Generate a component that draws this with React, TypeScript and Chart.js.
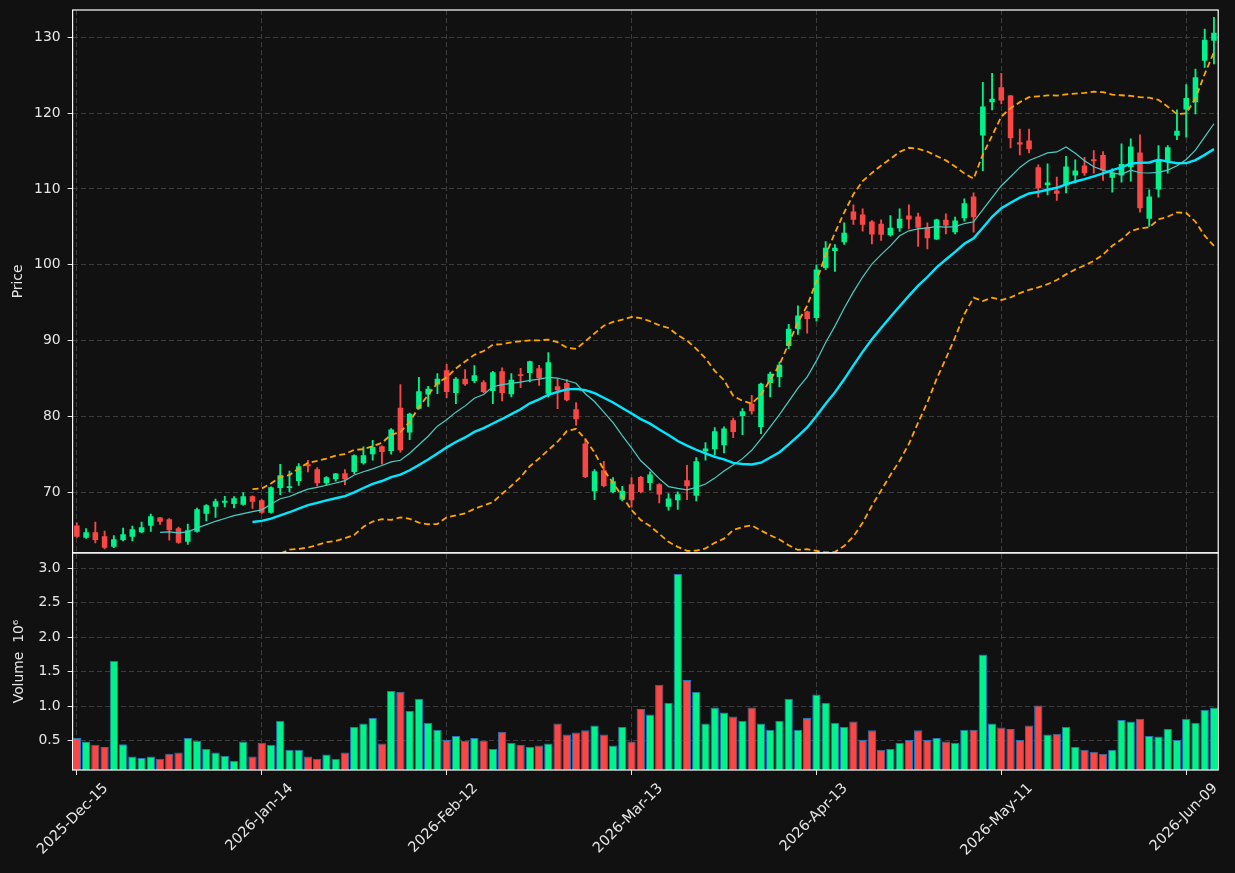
import React, { useEffect, useRef } from 'react';
import { Chart, registerables } from 'chart.js';

Chart.register(...registerables);

// ---------- categories (trading days) ----------
const FIRST_DAY = '2025-12-15';
const MARKET_HOLIDAYS = ['2025-12-25', '2026-01-01', '2026-01-19', '2026-02-16', '2026-04-03', '2026-05-25'];
const MONTH_NAMES = ['Jan', 'Feb', 'Mar', 'Apr', 'May', 'Jun', 'Jul', 'Aug', 'Sep', 'Oct', 'Nov', 'Dec'];

// ---------- series values ----------
const OPEN = [
  65.61, 63.98, 64.73, 64.20, 62.80, 63.68, 64.12, 64.73, 65.56, 66.66,
  66.44, 65.26, 63.46, 64.77, 67.15, 68.07, 68.60, 68.46, 68.33, 69.47,
  68.95, 67.28, 70.57, 70.57, 71.49, 73.69, 73.03, 71.19, 71.71, 72.50,
  72.68, 73.82, 75.01, 76.06, 75.45, 81.15, 77.86, 81.02, 82.87, 84.19,
  86.07, 83.09, 84.98, 84.67, 84.49, 83.35, 85.94, 82.91, 85.55, 85.72,
  86.34, 83.00, 83.97, 84.41, 80.94, 76.41, 70.13, 72.90, 70.04, 69.03,
  71.05, 72.02, 71.23, 71.05, 68.07, 68.95, 71.58, 69.52, 75.40, 75.67,
  76.19, 79.49, 80.06, 81.68, 78.61, 84.40, 85.20, 89.28, 91.48, 93.85,
  92.97, 99.56, 101.80, 102.98, 107.02, 106.63, 105.70, 105.40, 103.90, 104.83,
  106.50, 106.36, 104.96, 103.33, 105.92, 104.30, 106.14, 109.00, 117.04, 121.43,
  123.40, 122.31, 116.16, 116.38, 112.86, 110.49, 109.79, 110.45, 111.77, 113.08,
  113.91, 114.49, 111.46, 111.77, 112.86, 114.80, 106.06, 109.92, 113.52, 117.03,
  120.46, 121.43, 126.92, 129.55,
];
const HIGH = [
  65.96, 65.21, 66.05, 64.86, 64.29, 65.26, 65.52, 66.05, 67.10, 66.70,
  66.53, 65.39, 65.78, 67.89, 68.38, 69.08, 69.47, 69.43, 69.96, 69.52,
  69.03, 70.70, 73.69, 72.77, 73.78, 74.22, 73.25, 72.06, 72.50, 72.99,
  74.92, 75.97, 76.85, 76.10, 78.39, 84.19, 80.45, 85.15, 83.97, 85.63,
  86.86, 85.11, 86.16, 86.69, 84.71, 85.94, 86.42, 85.63, 86.34, 87.30,
  86.73, 88.40, 84.98, 84.84, 81.81, 77.07, 72.99, 74.08, 71.93, 70.79,
  71.93, 72.11, 72.68, 71.14, 69.82, 70.04, 73.56, 74.57, 76.54, 78.52,
  78.61, 79.79, 81.02, 82.78, 84.40, 85.85, 87.17, 92.13, 94.59, 93.89,
  99.99, 103.07, 102.67, 105.53, 107.90, 107.37, 105.84, 105.92, 106.50, 107.37,
  107.90, 106.80, 105.53, 106.01, 106.71, 106.28, 108.69, 109.48, 124.06, 125.25,
  125.25, 122.35, 117.91, 117.91, 113.17, 113.30, 111.55, 114.31, 113.83, 114.18,
  115.06, 114.93, 112.64, 115.94, 116.60, 117.12, 109.88, 115.72, 115.72, 120.42,
  123.75, 125.82, 131.09, 132.63,
];
const LOW = [
  64.03, 63.90, 63.32, 62.53, 62.67, 63.59, 63.59, 64.64, 64.82, 65.74,
  63.68, 63.24, 63.10, 64.73, 66.22, 66.66, 68.07, 67.94, 68.29, 67.85,
  67.19, 67.23, 69.69, 70.04, 70.88, 72.68, 70.79, 70.92, 71.45, 71.01,
  72.46, 73.69, 74.22, 73.69, 75.01, 75.27, 76.94, 80.94, 81.33, 83.00,
  82.47, 81.68, 84.10, 84.45, 83.13, 81.68, 82.03, 82.56, 83.79, 84.54,
  84.10, 82.56, 81.02, 82.03, 78.83, 71.93, 69.03, 70.70, 69.91, 68.86,
  68.07, 69.91, 70.26, 68.59, 67.63, 67.72, 69.03, 68.86, 74.22, 74.87,
  75.18, 77.20, 77.60, 80.28, 77.73, 82.56, 83.88, 88.93, 90.82, 90.99,
  92.57, 99.34, 99.12, 102.67, 105.31, 104.43, 102.76, 103.20, 103.77, 104.39,
  104.74, 102.41, 102.10, 103.33, 104.08, 104.08, 105.75, 104.30, 112.42, 120.42,
  121.21, 115.41, 114.49, 114.75, 108.91, 109.22, 108.47, 109.48, 110.80, 111.77,
  112.07, 111.11, 109.57, 110.89, 111.02, 106.93, 105.05, 108.91, 112.07, 116.51,
  116.82, 119.89, 126.04, 126.48,
];
const CLOSE = [
  64.12, 64.73, 63.68, 62.67, 63.81, 64.47, 65.13, 65.39, 66.84, 66.09,
  64.99, 63.32, 64.99, 67.76, 68.29, 68.81, 68.86, 69.21, 69.47, 68.73,
  67.28, 70.66, 72.24, 70.79, 73.43, 73.43, 71.19, 71.98, 72.46, 71.71,
  74.87, 74.87, 75.97, 75.31, 78.26, 75.53, 80.36, 83.31, 83.66, 84.98,
  83.22, 84.98, 84.23, 85.41, 83.22, 85.81, 83.09, 84.84, 85.33, 87.26,
  85.06, 87.13, 83.44, 82.12, 79.62, 72.02, 72.77, 70.83, 71.45, 70.18,
  68.95, 70.04, 72.33, 69.69, 69.17, 69.74, 70.79, 74.08, 75.75, 78.04,
  78.39, 77.95, 80.67, 80.67, 84.32, 85.63, 86.82, 91.56, 93.32, 92.84,
  99.38, 102.24, 102.24, 104.21, 105.92, 105.27, 103.99, 103.95, 104.87, 106.06,
  105.97, 104.87, 103.51, 105.97, 105.18, 105.84, 108.12, 106.28, 120.86, 121.91,
  121.65, 116.68, 115.85, 115.24, 110.10, 110.84, 109.35, 112.95, 112.42, 112.07,
  113.65, 112.42, 112.12, 113.30, 115.59, 107.46, 109.00, 113.74, 115.50, 117.69,
  122.00, 124.72, 129.68, 130.61,
];
// volume in millions (axis shows 10^6)
const VOLUME_M = [
  0.54, 0.49, 0.44, 0.41, 1.66, 0.45, 0.27, 0.25, 0.27, 0.24,
  0.31, 0.33, 0.54, 0.50, 0.38, 0.33, 0.28, 0.21, 0.49, 0.27,
  0.47, 0.44, 0.79, 0.37, 0.37, 0.27, 0.24, 0.30, 0.24, 0.33,
  0.70, 0.75, 0.83, 0.46, 1.22, 1.21, 0.93, 1.11, 0.76, 0.66,
  0.51, 0.57, 0.50, 0.54, 0.50, 0.38, 0.63, 0.47, 0.44, 0.41,
  0.43, 0.46, 0.75, 0.59, 0.62, 0.65, 0.72, 0.59, 0.43, 0.70,
  0.49, 0.96, 0.88, 1.31, 1.05, 2.92, 1.38, 1.21, 0.75, 0.98,
  0.91, 0.85, 0.79, 0.98, 0.75, 0.66, 0.79, 1.11, 0.66, 0.83,
  1.17, 1.05, 0.76, 0.70, 0.78, 0.51, 0.65, 0.37, 0.38, 0.47,
  0.51, 0.65, 0.51, 0.54, 0.49, 0.47, 0.66, 0.66, 1.75, 0.75,
  0.69, 0.67, 0.51, 0.72, 1.01, 0.59, 0.60, 0.70, 0.41, 0.37,
  0.34, 0.31, 0.37, 0.80, 0.78, 0.82, 0.57, 0.56, 0.67, 0.51,
  0.82, 0.76, 0.95, 0.98,
];

// ---------- tick labels ----------
const X_TICK_INDEX = [0, 20, 40, 60, 80, 100, 120];
const PRICE_TICKS = [70, 80, 90, 100, 110, 120, 130];
const VOLUME_TICKS = [0.5, 1.0, 1.5, 2.0, 2.5, 3.0];

// indicator windows
const MA_SHORT = 10;
const MA_LONG = 20;
const BB_K = 2;

function buildDates(count: number): string[] {
  const out: string[] = [];
  const d = new Date(FIRST_DAY + 'T00:00:00Z');
  while (out.length < count) {
    const iso = d.toISOString().slice(0, 10);
    const wd = d.getUTCDay();
    if (wd !== 0 && wd !== 6 && !MARKET_HOLIDAYS.includes(iso)) {
      out.push(`${d.getUTCFullYear()}-${MONTH_NAMES[d.getUTCMonth()]}-${String(d.getUTCDate()).padStart(2, '0')}`);
    }
    d.setUTCDate(d.getUTCDate() + 1);
  }
  return out;
}

function sma(vals: number[], w: number): (number | null)[] {
  return vals.map((_, i) => {
    if (i < w - 1) return null;
    let s = 0;
    for (let j = i - w + 1; j <= i; j++) s += vals[j];
    return s / w;
  });
}

function bands(vals: number[], w: number, k: number, sign: number): (number | null)[] {
  return vals.map((_, i) => {
    if (i < w - 1) return null;
    let s = 0;
    for (let j = i - w + 1; j <= i; j++) s += vals[j];
    const m = s / w;
    let v = 0;
    for (let j = i - w + 1; j <= i; j++) v += (vals[j] - m) ** 2;
    return m + sign * k * Math.sqrt(v / w);
  });
}

const DATES = buildDates(OPEN.length);

const UP = '#00f28a';
const DOWN = '#fb4646';
const BG = '#111111';
const GRID = '#3c3c3c';
const TXT = '#e6e6e6';
const FONT = 'DejaVu Sans';

const framePlugin = {
  id: 'framePlugin',
  beforeDraw(chart: any) {
    const { ctx, width, height } = chart;
    ctx.save();
    ctx.fillStyle = BG;
    ctx.fillRect(0, 0, width, height);
    ctx.restore();
  },
  beforeDatasetDraw(chart: any, args: any) {
    const ds = chart.data.datasets[args.index];
    const sc = chart.scales[ds.yAxisID];
    const a = chart.chartArea;
    const ctx = chart.ctx;
    ctx.save();
    ctx.beginPath();
    ctx.rect(a.left, sc.top, a.right - a.left, sc.bottom - sc.top);
    ctx.clip();
  },
  afterDatasetDraw(chart: any) {
    chart.ctx.restore();
  },
  afterDraw(chart: any) {
    const ctx = chart.ctx;
    const a = chart.chartArea;
    const yp = chart.scales.y;
    const yv = chart.scales.yv;
    ctx.save();
    ctx.strokeStyle = '#ffffff';
    ctx.lineWidth = 1.2;
    ctx.strokeRect(a.left, yp.top, a.right - a.left, yp.bottom - yp.top);
    ctx.strokeRect(a.left, yv.top, a.right - a.left, yv.bottom - yv.top);
    ctx.restore();
  },
};

function fitY(s: any) {
  s.width = 72.6;
  s.paddingTop = 0;
  s.paddingBottom = 0;
}

export default function App() {
  const ref = useRef<HTMLCanvasElement | null>(null);

  useEffect(() => {
    document.body.style.margin = '0';
    document.body.style.background = BG;
    const canvas = ref.current;
    if (!canvas) return;

    const idx = OPEN.map((_, i) => i);
    const colors = idx.map((i) => (CLOSE[i] >= OPEN[i] ? UP : DOWN));
    const maS = sma(CLOSE, MA_SHORT);
    const maL = sma(CLOSE, MA_LONG);
    const bbU = bands(CLOSE, MA_LONG, BB_K, 1);
    const bbL = bands(CLOSE, MA_LONG, BB_K, -1);

    const lineBase = {
      type: 'line' as const,
      yAxisID: 'y',
      pointRadius: 0,
      tension: 0,
      fill: false,
      order: 1,
    };

    const gridOpts = {
      color: GRID,
      lineWidth: 1,
      offset: false,
      tickColor: '#e6e6e6',
      tickLength: 5,
      tickWidth: 1,
      tickBorderDash: [],
    };

    const chart = new Chart(canvas, {
      type: 'bar',
      data: {
        datasets: [
          {
            ...lineBase,
            label: 'BB upper',
            data: idx.map((i) => ({ x: i, y: bbU[i] })),
            borderColor: '#ffa500',
            borderWidth: 1.8,
            borderDash: [6, 3.5],
          } as any,
          {
            ...lineBase,
            label: 'BB lower',
            data: idx.map((i) => ({ x: i, y: bbL[i] })),
            borderColor: '#ffa500',
            borderWidth: 1.8,
            borderDash: [6, 3.5],
          } as any,
          {
            ...lineBase,
            label: 'MA10',
            data: idx.map((i) => ({ x: i, y: maS[i] })),
            borderColor: '#4ccdc4',
            borderWidth: 1.2,
          } as any,
          {
            ...lineBase,
            label: 'MA20',
            data: idx.map((i) => ({ x: i, y: maL[i] })),
            borderColor: '#00e8ff',
            borderWidth: 2.4,
          } as any,
          {
            type: 'bar',
            label: 'body',
            yAxisID: 'y',
            data: idx.map((i) => ({ x: i, y: [OPEN[i], CLOSE[i]] })),
            backgroundColor: colors,
            borderWidth: 0,
            grouped: false,
            barPercentage: 0.6,
            categoryPercentage: 1,
            minBarLength: 1,
            order: 2,
          } as any,
          {
            type: 'bar',
            label: 'wick',
            yAxisID: 'y',
            data: idx.map((i) => ({ x: i, y: [LOW[i], HIGH[i]] })),
            backgroundColor: colors,
            borderWidth: 0,
            grouped: false,
            barThickness: 1.2,
            order: 3,
          } as any,
          {
            type: 'bar',
            label: 'Volume',
            yAxisID: 'yv',
            data: idx.map((i) => ({ x: i, y: VOLUME_M[i] })),
            backgroundColor: colors,
            borderColor: '#2a75b5',
            borderWidth: 1,
            borderSkipped: false,
            grouped: false,
            barPercentage: 0.9,
            categoryPercentage: 1,
            order: 4,
          } as any,
        ],
      },
      options: {
        responsive: false,
        animation: false,
        devicePixelRatio: 1,
        layout: { padding: { top: 10, right: 16.8, left: 0, bottom: 0 } },
        plugins: { legend: { display: false }, tooltip: { enabled: false } },
        scales: {
          x: {
            type: 'linear',
            offset: false,
            min: -0.46,
            max: 123.46,
            afterBuildTicks: (s: any) => {
              s.ticks = X_TICK_INDEX.map((v) => ({ value: v }));
            },
            afterFit: (s: any) => {
              s.height = 103;
              s.paddingLeft = 0;
              s.paddingRight = 0;
            },
            ticks: {
              autoSkip: false,
              maxRotation: 45,
              minRotation: 45,
              labelOffset: 29,
              padding: 5,
              color: TXT,
              font: { family: FONT, size: 14.4 },
              callback: (v: any) => DATES[Math.round(Number(v))] ?? '',
            },
            grid: gridOpts,
            border: { display: false, dash: [5, 3] },
          },
          y: {
            type: 'linear',
            position: 'left',
            stack: 'panels',
            stackWeight: 5,
            weight: 1,
            min: 62.0,
            max: 133.6,
            afterBuildTicks: (s: any) => {
              s.ticks = PRICE_TICKS.map((v) => ({ value: v }));
            },
            afterFit: fitY,
            ticks: {
              color: TXT,
              padding: 7,
              font: { family: FONT, size: 13.9 },
              callback: (v: any) => String(v),
            },
            grid: gridOpts,
            border: { display: false, dash: [5, 3] },
            title: {
              display: true,
              text: 'Price',
              color: TXT,
              font: { family: FONT, size: 13.9 },
              padding: { top: 10.4, bottom: 0 },
            },
          },
          yv: {
            type: 'linear',
            position: 'left',
            stack: 'panels',
            stackWeight: 2,
            weight: 0,
            min: 0.075,
            max: 3.225,
            afterBuildTicks: (s: any) => {
              s.ticks = VOLUME_TICKS.map((v) => ({ value: v }));
            },
            afterFit: fitY,
            ticks: {
              color: TXT,
              padding: 7,
              font: { family: FONT, size: 13.9 },
              callback: (v: any) => Number(v).toFixed(1),
            },
            grid: gridOpts,
            border: { display: false, dash: [5, 3] },
            title: {
              display: true,
              text: 'Volume  10\u2076',
              color: TXT,
              font: { family: FONT, size: 13.9 },
              padding: { top: 11.5, bottom: 0 },
            },
          },
        },
      } as any,
      plugins: [framePlugin],
    });

    return () => chart.destroy();
  }, []);

  return (
    <div style={{ position: 'absolute', left: 0, top: 0, width: 1235, height: 873, background: BG }}>
      <canvas ref={ref} width={1235} height={873} style={{ width: 1235, height: 873, display: 'block' }} />
    </div>
  );
}
